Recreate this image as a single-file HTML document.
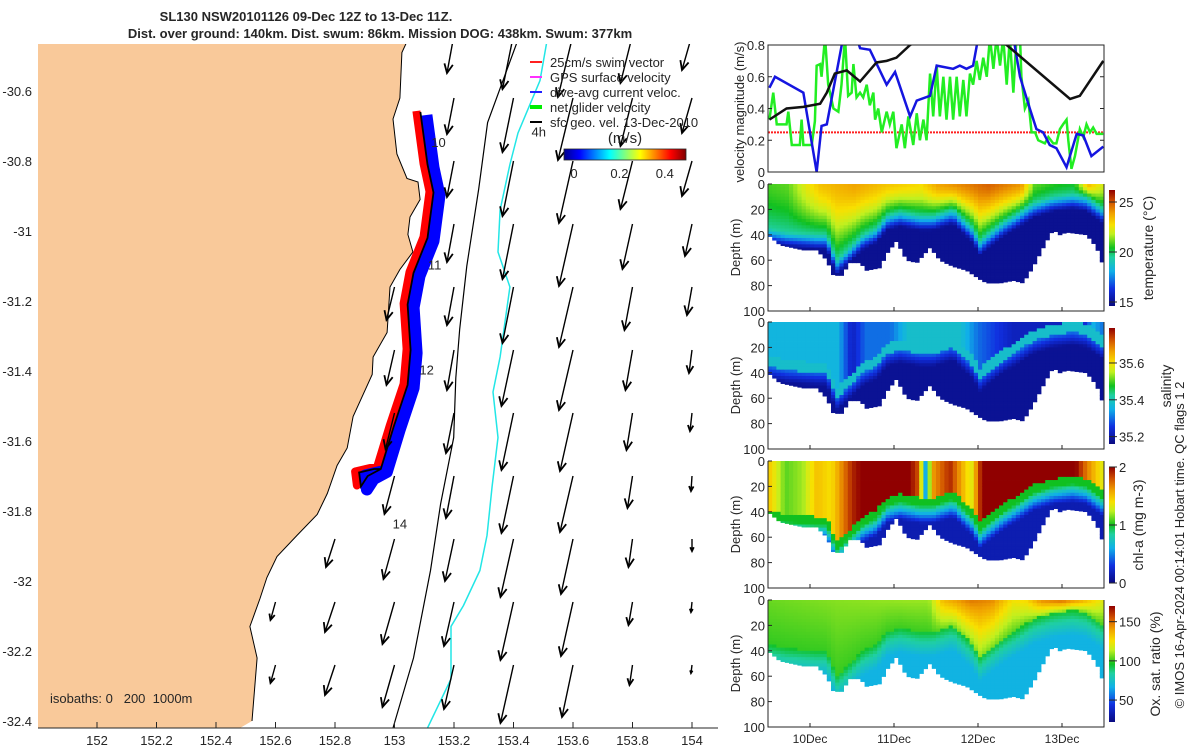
<!DOCTYPE html>
<html><head><meta charset="utf-8"><title>SL130 glider summary</title>
<style>
html,body{margin:0;padding:0;background:#fff;}
svg{display:block;font-family:"Liberation Sans","DejaVu Sans",sans-serif;}
text{fill:#262626;}
</style></head>
<body>
<svg id="fig" width="1200" height="750" viewBox="0 0 1200 750" xmlns="http://www.w3.org/2000/svg">
<defs>
<linearGradient id="jetH" x1="0" y1="0" x2="1" y2="0">
<stop offset="0" stop-color="#00008f"/><stop offset="0.125" stop-color="#0000ff"/><stop offset="0.375" stop-color="#00ffff"/><stop offset="0.625" stop-color="#ffff00"/><stop offset="0.875" stop-color="#ff0000"/><stop offset="1" stop-color="#800000"/></linearGradient>
<linearGradient id="cmV" x1="0" y1="1" x2="0" y2="0">
<stop offset="0" stop-color="#0a0a80"/><stop offset="0.15" stop-color="#1030e0"/><stop offset="0.3" stop-color="#10b0e8"/><stop offset="0.42" stop-color="#20d0a0"/><stop offset="0.5" stop-color="#10c020"/><stop offset="0.62" stop-color="#c0f020"/><stop offset="0.7" stop-color="#f8e000"/><stop offset="0.8" stop-color="#f0a000"/><stop offset="0.9" stop-color="#d05000"/><stop offset="1" stop-color="#900000"/></linearGradient>
<clipPath id="mapClip"><rect x="38" y="44" width="680" height="684"/></clipPath>
<clipPath id="velClip"><rect x="768" y="45" width="336" height="127"/></clipPath>
</defs>
<g id="title">
<text x="306" y="21" text-anchor="middle" font-size="13" font-weight="bold">SL130 NSW20101126 09-Dec 12Z to 13-Dec 11Z.</text>
<text x="380" y="38" text-anchor="middle" font-size="13" font-weight="bold">Dist. over ground: 140km. Dist. swum: 86km. Mission DOG: 438km. Swum: 377km</text>
</g>
<g id="map"></g>
<g id="vel"></g>
<g id="sections"></g>
<text transform="translate(1184,545) rotate(-90)" text-anchor="middle" font-size="13">© IMOS 16-Apr-2024 00:14:01 Hobart time. QC flags 1  2</text>
</svg>
<script>
// ---------- MAP DATA ----------
const lonTicks=[152,152.2,152.4,152.6,152.8,153,153.2,153.4,153.6,153.8,154];
const latTicks=[-30.6,-30.8,-31,-31.2,-31.4,-31.6,-31.8,-32,-32.2,-32.4];
const coastLon=[153.052,153.025,153.018,152.995,153.008,153.042,153.079,153.086,153.052,153.045,153.062,153.018,152.985,152.975,152.928,152.925,152.861,152.841,152.807,152.774,152.740,152.672,152.605,152.571,152.548,152.514,152.538,152.521];
const coastLat=[-30.44,-30.49,-30.62,-30.68,-30.78,-30.85,-30.86,-30.91,-30.96,-31.01,-31.06,-31.11,-31.16,-31.29,-31.36,-31.41,-31.53,-31.62,-31.67,-31.75,-31.81,-31.87,-31.93,-31.99,-32.05,-32.13,-32.22,-32.40];
const trackLon=[153.087,153.111,153.131,153.111,153.064,153.044,153.054,153.044,152.997,152.954,152.910,152.887,152.881,152.931,152.954];
const trackLat=[-30.66,-30.81,-30.89,-31.02,-31.12,-31.21,-31.34,-31.44,-31.56,-31.68,-31.70,-31.73,-31.69,-31.68,-31.68];
const isoBlackLon=[153.421,153.313,153.283,153.243,153.219,153.206,153.199,153.155,153.121,153.064,152.995];
const isoBlackLat=[-30.44,-30.69,-30.88,-31.10,-31.28,-31.42,-31.59,-31.78,-31.97,-32.22,-32.42];
const isoCyanLon=[153.516,153.489,153.415,153.388,153.355,153.348,153.388,153.355,153.331,153.348,153.328,153.311,153.287,153.232,153.190,153.190,153.111];
const isoCyanLat=[-30.44,-30.57,-30.72,-30.81,-30.94,-31.06,-31.16,-31.36,-31.46,-31.59,-31.73,-31.87,-31.97,-32.07,-32.13,-32.28,-32.42];
const gridLon=[152.6,152.8,153,153.2,153.4,153.6,153.8,154];
const gridLat=[-30.44,-30.62,-30.80,-30.98,-31.16,-31.34,-31.52,-31.70,-31.88,-32.06,-32.24,-32.42];
const N=null;
const uCur=[
[N,N,N,-.07,-.11,-.15,-.12,-.10],
[N,N,N,-.07,-.11,-.15,-.12,-.10],
[N,N,N,-.07,-.11,-.14,-.12,-.10],
[N,N,N,-.07,-.11,-.14,-.10,-.07],
[N,N,-.08,-.07,-.11,-.14,-.08,-.05],
[N,N,-.08,-.07,-.12,-.14,-.07,-.03],
[N,N,-.09,-.08,-.12,-.13,-.06,-.02],
[N,N,-.10,-.08,-.12,-.13,-.05,-.01],
[N,-.09,-.11,-.09,-.13,-.12,-.04,0],
[-.05,-.10,-.12,-.10,-.13,-.12,-.04,-.01],
[-.05,-.10,-.12,-.10,-.13,-.11,-.03,-.01],
[-.05,-.10,-.12,-.10,-.13,-.11,-.03,-.01]];
const vCur=[
[N,N,N,-.38,-.54,-.62,-.48,-.35],
[N,N,N,-.36,-.54,-.62,-.48,-.35],
[N,N,N,-.36,-.55,-.62,-.48,-.35],
[N,N,N,-.38,-.55,-.62,-.45,-.32],
[N,N,-.33,-.38,-.56,-.60,-.43,-.28],
[N,N,-.35,-.40,-.56,-.60,-.40,-.23],
[N,N,-.36,-.40,-.57,-.58,-.37,-.18],
[N,N,-.38,-.42,-.57,-.56,-.32,-.15],
[N,-.28,-.40,-.42,-.58,-.55,-.28,-.12],
[-.18,-.30,-.42,-.44,-.58,-.54,-.23,-.10],
[-.18,-.30,-.42,-.44,-.58,-.52,-.20,-.08],
[-.18,-.30,-.42,-.44,-.58,-.52,-.20,-.08]];
const vecScale=100; // px per m/s
const trackLabels=["10","11","12","14","4h"];
const trackLabelLon=[153.148,153.135,153.108,153.018,153.485];
const trackLabelLat=[-30.76,-31.11,-31.41,-31.85,-30.73];

// ---------- VELOCITY PANEL DATA (hours since 09-Dec 12Z) ----------
const netH=[0.4,1.5,2.5,5.3,5.8,6.8,9.1,9.6,10.1,12.5,13.4,13.9,14.9,15.3,16.3,17.2,18.7,20.1,21,22,22.9,23.9,24.4,25.3,26.3,27.2,28.2,29.1,30.1,30.6,31.5,32.5,33.9,34.8,35.8,36.7,38.2,39.1,40.1,41.5,42.5,43.4,44.4,45.3,46.3,47.2,48.2,49.1,50.1,51,52,52.9,53.9,54.8,55.8,56.7,57.7,58.6,59.6,60.5,61.5,62.5,63.4,64.4,65.3,66.3,67.2,68.2,69.1,70.1,71,72,72.4,73.4,74.4,75.3,76.3,77.2,79.1,80.1,81.5,82.4,83.4,84.3,85.3,85.8,86.7,87.7,89.1,90.1,91,92,92.9,93.9,95.8];
const netV=[0.33,0.5,0.3,0.3,0.38,0.17,0.17,0.33,0.17,0.17,0.32,0.67,0.68,0.6,0.85,0.55,0.4,0.38,0.55,0.85,0.48,0.5,0.68,0.47,0.5,0.47,0.55,0.42,0.5,0.33,0.4,0.25,0.38,0.3,0.38,0.15,0.3,0.15,0.35,0.17,0.37,0.2,0.33,0.2,0.62,0.35,0.67,0.35,0.6,0.33,0.6,0.33,0.6,0.35,0.58,0.35,0.62,0.55,0.7,0.58,0.72,0.6,0.85,0.65,0.85,0.67,0.85,0.55,0.85,0.5,0.85,0.85,0.6,0.4,0.45,0.25,0.25,0.2,0.18,0.22,0.18,0.18,0.27,0.3,0.33,0.2,0.02,0.1,0.27,0.22,0.3,0.25,0.28,0.24,0.24];
const curH=[0.4,2,10.1,13.9,15.3,16.8,21.5,25.3,26.3,29.1,33.9,36.3,40.6,42.5,46.3,48.2,52.9,54.8,56.7,58.6,60.1,70.1,72,74.8,76.7,78.6,80.5,82.4,85.3,88.2,90.1,92.4,95.8];
const curV=[0.53,0.6,0.5,0,0.29,0.3,0.85,0.85,0.78,0.77,0.55,0.63,0.35,0.45,0.48,0.67,0.65,0.67,0.65,0.67,0.85,0.85,0.6,0.4,0.27,0.25,0.17,0.15,0.03,0.24,0.23,0.1,0.16];
const geoH=[0.4,5.3,10.1,14.9,16.8,19.1,22.5,26.3,31,33.9,36.7,40.6,52.9,68.2,86.3,89.1,95.8];
const geoV=[0.33,0.4,0.41,0.43,0.5,0.62,0.64,0.57,0.69,0.7,0.72,0.8,0.95,0.8,0.46,0.48,0.7];
const swimH=[0,96];
const swimV=[0.25,0.25];
const velTicks=[0,0.2,0.4,0.6,0.8];

// ---------- SECTION DATA ----------
const botH=[0,3.4,10.1,13.9,16.8,18.7,21.5,22.9,26.3,28.2,32,33.9,36.7,39.6,42.5,46.3,49.1,52.9,56.7,60.5,62.5,66.3,70.1,72.9,75.8,79.6,81.5,83.4,85.3,91,93.9,96];
const botD=[40,48,52,52,60,72,72,62,62,68,66,55,45,60,62,50,60,65,68,75,78,78,76,78,65,45,36,40,38,40,50,66];
const mldH=[0,5.3,13.9,16.8,19.6,23.4,27.2,31,33.9,37.7,43.4,47.2,52.9,58.6,60.5,62.5,67.2,72,75.8,81.5,87.2,91,96];
const mldD=[35,38,40,40,60,50,40,35,25,22,25,25,20,35,45,40,30,22,15,10,8,10,20];
const sstH=[0,5.7,11.4,15.2,24.7,34.3,43.8,48.6,62.9,72.4,76.2,81.9,87.6,91.4,96];
const sstV=[20.8,21,22.5,23.3,23.8,23.2,22.8,23.8,24.8,24,21,20.5,20.3,23.5,22];
const salH=[0,20,24,28,35,40,55,60,70,90,93,96];
const salV=[35.36,35.36,35.22,35.3,35.3,35.38,35.38,35.3,35.22,35.22,35.35,35.3];
const chlH=[0,5,10,14,18,24,29,34,38,43,45,47,52,58,62,70,72,80,86,91,96];
const chlV=[1.5,1.1,1.2,1.5,1.4,1.9,2.1,2.2,2.2,1.8,0.6,1.6,1.9,1.3,2.2,2.2,2.2,2.2,2.2,1.7,1.3];
const oxH=[0,20,40,46,50,58,64,70,74,78,84,90,96];
const oxV=[105,108,110,110,135,148,145,125,128,145,152,138,120];
const depthTicks=[0,20,40,60,80,100];
const dayTicks=["10Dec","11Dec","12Dec","13Dec"];
const dayTickH=[12,36,60,84];
const tempTicks=[15,20,25];
const salTicks=[35.2,35.4,35.6];
const chlTicks=[0,1,2];
const oxTicks=[50,100,150];

// ---------- helpers ----------
const NS="http://www.w3.org/2000/svg";
function mk(tag,parent,attrs){const e=document.createElementNS(NS,tag);for(const k in attrs)e.setAttribute(k,attrs[k]);parent.appendChild(e);return e;}
function interp(xs,ys,x){if(x<=xs[0])return ys[0];for(let i=1;i<xs.length;i++){if(x<=xs[i]){const f=(x-xs[i-1])/(xs[i]-xs[i-1]);return ys[i-1]+f*(ys[i]-ys[i-1]);}}return ys[ys.length-1];}
const cmPos=[0,0.15,0.3,0.42,0.5,0.62,0.7,0.8,0.9,1];
const cmR=[10,16,16,32,16,192,248,240,208,144];
const cmG=[10,48,176,208,192,240,224,160,80,0];
const cmB=[128,224,232,160,32,32,0,0,0,0];
function cmap(v){v=Math.max(0,Math.min(1,v));return `rgb(${Math.round(interp(cmPos,cmR,v))},${Math.round(interp(cmPos,cmG,v))},${Math.round(interp(cmPos,cmB,v))})`;}
const lx=lon=>97+(lon-152)*297.5;
const ly=lat=>91+(-30.6-lat)*350;

// ---------- MAP ----------
const map=document.getElementById('map');
const mapBody=mk('g',map,{'clip-path':'url(#mapClip)'});
let landPts=`38,44 `+coastLon.map((l,i)=>lx(l).toFixed(1)+','+ly(coastLat[i]).toFixed(1)).join(' ')+' 240,728 38,728';
const land=mk('polygon',mapBody,{points:landPts,fill:'#f9c99a',stroke:'none'});


const coast=mk('polyline',mapBody,{points:coastLon.map((l,i)=>lx(l).toFixed(1)+','+ly(coastLat[i]).toFixed(1)).join(' '),fill:'none',stroke:'#000','stroke-width':1});


const isoB=mk('polyline',mapBody,{points:isoBlackLon.map((l,i)=>lx(l).toFixed(1)+','+ly(isoBlackLat[i]).toFixed(1)).join(' '),fill:'none',stroke:'#000','stroke-width':1.2});


const isoC=mk('polyline',mapBody,{points:isoCyanLon.map((l,i)=>lx(l).toFixed(1)+','+ly(isoCyanLat[i]).toFixed(1)).join(' '),fill:'none',stroke:'#22e6e6','stroke-width':1.5});


const trk=trackLon.map((l,i)=>lx(l).toFixed(1)+','+ly(trackLat[i]).toFixed(1)).join(' ');
const trRed=mk('polyline',mapBody,{points:trk,fill:'none',stroke:'#ff0000','stroke-width':8,'stroke-linejoin':'round',transform:'translate(-4,-1)'});


const trBlue=mk('polyline',mapBody,{points:trk,fill:'none',stroke:'#0000ff','stroke-width':12,'stroke-linejoin':'round',transform:'translate(6,3)'});


const trBlack=mk('polyline',mapBody,{points:trk,fill:'none',stroke:'#000','stroke-width':1.8});


for(let r=0;r<gridLat.length;r++){for(let c=0;c<gridLon.length;c++){
  if(uCur[r][c]===null)continue;
  const x0=lx(gridLon[c]),y0=ly(gridLat[r]);
  const x1=x0+uCur[r][c]*vecScale,y1=y0-vCur[r][c]*vecScale;
  const ang=Math.atan2(y1-y0,x1-x0),L=Math.min(10,Math.hypot(x1-x0,y1-y0)*0.35);
  const g=mk('g',mapBody,{});
  
  
  mk('line',g,{x1:x0,y1:y0,x2:x1,y2:y1,stroke:'#000','stroke-width':1.4});
  mk('polyline',g,{points:`${x1+L*Math.cos(ang+2.7)},${y1+L*Math.sin(ang+2.7)} ${x1},${y1} ${x1+L*Math.cos(ang-2.7)},${y1+L*Math.sin(ang-2.7)}`,fill:'none',stroke:'#000','stroke-width':1.8});
}}
trackLabels.forEach((t,i)=>{const e=mk('text',mapBody,{x:lx(trackLabelLon[i]),y:ly(trackLabelLat[i]),'font-size':13,'text-anchor':'middle'});e.textContent=t;

});
const iso=mk('text',map,{x:50,y:703,'font-size':13});iso.textContent='isobaths: 0\u00a0\u00a0\u00a0200\u00a0\u00a01000m';


mk('line',map,{x1:38,y1:728,x2:718,y2:728,stroke:'#262626','stroke-width':1});
lonTicks.forEach(l=>{const x=lx(l);mk('line',map,{x1:x,y1:728,x2:x,y2:722,stroke:'#262626'});const t=mk('text',map,{x:x,y:745,'font-size':13,'text-anchor':'middle'});t.textContent=String(l);

});
latTicks.forEach(l=>{const t=mk('text',map,{x:32,y:ly(l)+5,'font-size':13,'text-anchor':'end'});t.textContent=String(l);

});
// legend
const leg=mk('g',map,{});


const legNames=['25cm/s swim vector','GPS surface velocity','dive-avg current veloc.','net glider velocity','sfc geo. vel. 13-Dec-2010'];
const legCols=['#ff2020','#ff30ff','#2020ff','#00ee00','#000'];
legNames.forEach((n,i)=>{const y=62+i*15;mk('line',leg,{x1:530,y1:y,x2:542,y2:y,stroke:legCols[i],'stroke-width':i==3?4:2});
const t=mk('text',leg,{x:550,y:y+5,'font-size':13});t.textContent=n;

});
const ms=mk('text',map,{x:625,y:143,'font-size':15,'text-anchor':'middle'});ms.textContent='(m/s)';


const mcb=mk('rect',map,{x:564,y:149,width:122,height:11,fill:'url(#jetH)',stroke:'#262626','stroke-width':0.8});


[0,0.2,0.4].forEach((v,i)=>{const x=574+v*227;const t=mk('text',map,{x:x,y:178,'font-size':13,'text-anchor':'middle'});t.textContent=String(v);

});

// ---------- VELOCITY PANEL ----------
const vel=document.getElementById('vel');
const vx=h=>768+h*3.5, vy=v=>172-v*158.75;
const vb=mk('g',vel,{'clip-path':'url(#velClip)'});
const swimL=mk('polyline',vb,{points:swimH.map((h,i)=>vx(h)+','+vy(swimV[i])).join(' '),fill:'none',stroke:'#ff2020','stroke-width':2,'stroke-dasharray':'2,1'});


const netL=mk('polyline',vb,{points:netH.map((h,i)=>vx(h)+','+vy(netV[i])).join(' '),fill:'none',stroke:'#22ee22','stroke-width':2.5});


const curL=mk('polyline',vb,{points:curH.map((h,i)=>vx(h)+','+vy(curV[i])).join(' '),fill:'none',stroke:'#1515e0','stroke-width':2.5});


const geoL=mk('polyline',vb,{points:geoH.map((h,i)=>vx(h)+','+vy(geoV[i])).join(' '),fill:'none',stroke:'#111','stroke-width':2.5});


mk('rect',vel,{x:768,y:45,width:336,height:127,fill:'none',stroke:'#262626','stroke-width':1});
velTicks.forEach(v=>{const y=vy(v);mk('line',vel,{x1:768,y1:y,x2:772,y2:y,stroke:'#262626'});mk('line',vel,{x1:1104,y1:y,x2:1100,y2:y,stroke:'#262626'});
const t=mk('text',vel,{x:765,y:y+5,'font-size':13,'text-anchor':'end'});t.textContent=String(v);

});
const vyl=mk('text',vel,{transform:'translate(744,112) rotate(-90)','font-size':13,'text-anchor':'middle'});vyl.textContent='velocity magnitude (m/s)';



// ---------- SECTIONS ----------
const secs=document.getElementById('sections');
const panels=[
 {name:'temperature',top:184,lo:14.6,hi:26.2,ticks:tempTicks,label:'temperature (°C)',lx:1153,
  f:(h,d)=>{const m=interp(mldH,mldD,h),s=interp(sstH,sstV,h);if(d<m)return s-(s-19.5)*Math.pow(d/m,1.5);return Math.max(14.9,19.5-(d-m)*0.4);}},
 {name:'salinity',top:322,lo:35.16,hi:35.79,ticks:salTicks,label:'salinity',lx:1171,
  f:(h,d)=>{const m=interp(mldH,mldD,h),s=interp(salH,salV,h);if(d<m-8)return s;if(d<m)return 35.38;return Math.max(35.18,35.3-(d-m)*0.012);}},
 {name:'chlorophyll',top:461,lo:0,hi:2,ticks:chlTicks,label:'chl-a (mg m-3)',lx:1143,
  f:(h,d)=>{const m=interp(mldH,mldD,h)+4,s=interp(chlH,chlV,h);if(d<m)return s;if(d<m+6)return 1.0;return Math.max(0.15,1.0-(d-m-6)*0.06);}},
 {name:'oxygen',top:600,lo:22,hi:170,ticks:oxTicks,label:'Ox. sat. ratio (%)',lx:1160,
  f:(h,d)=>{const m=interp(mldH,mldD,h),s=interp(oxH,oxV,h);if(d<m)return s-(s-98)*(d/m)*0.8;return Math.max(68,95-(d-m)*1.4);}}
];
const sx=h=>768+h*3.5;
panels.forEach((p,pi)=>{
  const g=mk('g',secs,{});
  
  
  const dy=d=>p.top+d*1.27;
  const dh=1.2, dd=2.5;
  for(let h=0;h<96;h+=dh){const b=interp(botH,botD,h+dh/2);
    for(let d=0;d<b;d+=dd){const v=p.f(h+dh/2,d+dd/2);
      const r=mk('rect',g,{x:sx(h).toFixed(2),y:dy(d).toFixed(2),width:(dh*3.5+0.4).toFixed(2),height:(Math.min(dd,b-d)*1.27+0.4).toFixed(2),fill:cmap((v-p.lo)/(p.hi-p.lo))});
      
      
    }}
  const ax=mk('g',secs,{});
  
  
  mk('polyline',ax,{points:`768,${p.top} 768,${dy(100)} 1104,${dy(100)} 1104,${p.top}`,fill:'none',stroke:'#262626','stroke-width':1});
  depthTicks.forEach(d=>{const y=dy(d);mk('line',ax,{x1:768,y1:y,x2:772,y2:y,stroke:'#262626'});
    const t=mk('text',ax,{x:765,y:y+5,'font-size':13,'text-anchor':'end'});t.textContent=String(d);
    
    });
  dayTickH.forEach((h,i)=>{mk('line',ax,{x1:sx(h),y1:dy(100),x2:sx(h),y2:dy(100)-4,stroke:'#262626'});
    if(pi===3){const t=mk('text',ax,{x:sx(h),y:dy(100)+16,'font-size':12,'text-anchor':'middle'});t.textContent=dayTicks[i];
    
    }});
  const yl=mk('text',ax,{transform:`translate(740,${dy(50)}) rotate(-90)`,'font-size':13,'text-anchor':'middle'});yl.textContent='Depth (m)';
  
  
  const cbTop=p.top+6,cbH=116;
  const cb=mk('rect',ax,{x:1109,y:cbTop,width:6,height:cbH,fill:'url(#cmV)'});
  
  
  p.ticks.forEach(v=>{const y=cbTop+cbH-(v-p.lo)/(p.hi-p.lo)*cbH;mk('line',ax,{x1:1109,y1:y,x2:1117,y2:y,stroke:'#262626'});
    const t=mk('text',ax,{x:1119,y:y+5,'font-size':13});t.textContent=String(v);
    
    });
  const cl=mk('text',ax,{transform:`translate(${p.lx},${cbTop+cbH/2}) rotate(-90)`,'font-size':14,'text-anchor':'middle'});cl.textContent=p.label;
  
  
});
</script>
</body></html>
